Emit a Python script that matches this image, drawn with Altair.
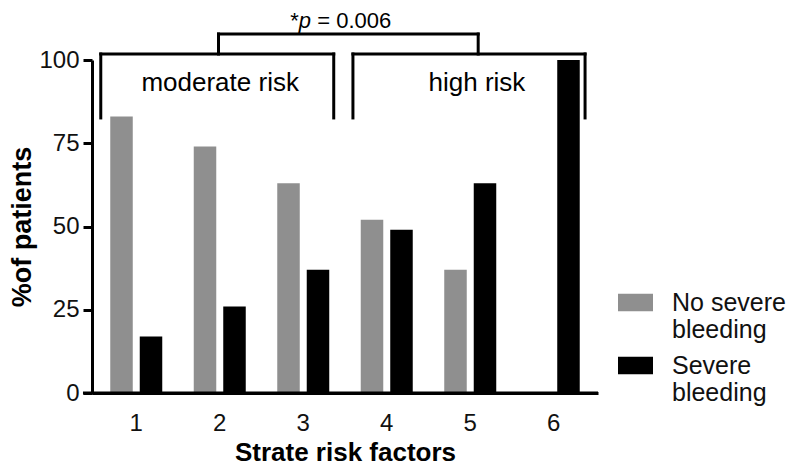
import altair as alt
import pandas as pd

FONT = "Liberation Sans"

# ---- data ----
factors = [1, 2, 3, 4, 5, 6]
no_severe = [83, 74, 63, 52, 37, 0]
severe = [17, 26, 37, 49, 63, 100]
series = ["No severe bleeding", "Severe bleeding"]
colors = ["#8f8f8f", "#000000"]
y_ticks = [0, 25, 50, 75, 100]

# annotation geometry, in (factor position, percent) units
bracket_labels = ["moderate risk", "high risk"]
bracket_left = [0.59, 3.61]
bracket_right = [3.38, 6.39]
bracket_level = 101.8
bracket_leg_bottom = 82.6
label_center = [2.02, 5.095]
label_y = 90.8
top_legs = [2.0, 5.11]
top_level = 107.8
p_x = 2.86
p_y = 109.6
x_pos_domain = [0.485, 6.545]

rows = []
for f, a, b in zip(factors, no_severe, severe):
    rows.append({"factor": f, "group": series[0], "pct": a})
    rows.append({"factor": f, "group": series[1], "pct": b})
bars_df = pd.DataFrame(rows)

segs = []
for l, r in zip(bracket_left, bracket_right):
    segs.append({"x": l, "x2": r, "y": bracket_level, "y2": bracket_level})
    segs.append({"x": l, "x2": l, "y": bracket_level, "y2": bracket_leg_bottom})
    segs.append({"x": r, "x2": r, "y": bracket_level, "y2": bracket_leg_bottom})
segs.append({"x": top_legs[0], "x2": top_legs[1], "y": top_level, "y2": top_level})
for t in top_legs:
    segs.append({"x": t, "x2": t, "y": bracket_level, "y2": top_level})
seg_df = pd.DataFrame(segs)

lab_df = pd.DataFrame({"x": label_center, "y": [label_y] * 2, "text": bracket_labels})
p_df = pd.DataFrame({"x": [p_x], "y": [p_y]})

yscale = alt.Scale(domain=[0, 100], nice=False, zero=True)
xq = alt.Scale(domain=x_pos_domain, nice=False, zero=False)
YT = "%of patients"

bars = alt.Chart(bars_df).mark_bar().encode(
    x=alt.X("factor:O", title="Strate risk factors",
            scale=alt.Scale(paddingInner=0, paddingOuter=0.03)),
    xOffset=alt.XOffset("group:N", sort=series,
                        scale=alt.Scale(paddingInner=0.237, paddingOuter=0.534)),
    y=alt.Y("pct:Q", title=YT, scale=yscale, axis=alt.Axis(values=y_ticks)),
    color=alt.Color("group:N", title=None,
                    scale=alt.Scale(domain=series, range=colors),
                    legend=alt.Legend(
                        labelExpr="datum.label == 'No severe bleeding' ? ['No severe', 'bleeding'] : ['Severe', 'bleeding']")),
)

axis_ext = alt.Chart(pd.DataFrame({"a": [0]})).mark_rule(
    color="black", strokeWidth=3).encode(
    x=alt.datum(0.377, scale=xq, axis=None),
    x2=alt.datum(x_pos_domain[1]),
    y=alt.datum(0, scale=yscale, title=YT),
)

rules = alt.Chart(seg_df).mark_rule(color="black", strokeWidth=3, strokeCap="square").encode(
    x=alt.X("x:Q", scale=xq, axis=None),
    x2="x2:Q",
    y=alt.Y("y:Q", scale=yscale, title=YT),
    y2="y2:Q",
)

labels = alt.Chart(lab_df).mark_text(
    font=FONT, fontSize=26, baseline="alphabetic", align="center", color="black").encode(
    x=alt.X("x:Q", scale=xq, axis=None),
    y=alt.Y("y:Q", scale=yscale, title=YT),
    text="text:N",
)

def ptext(txt, dx, italic=False):
    return alt.Chart(p_df).mark_text(
        font=FONT, fontSize=22, baseline="alphabetic", align="left", color="black",
        dx=dx, fontStyle="italic" if italic else "normal").encode(
        x=alt.X("x:Q", scale=xq, axis=None),
        y=alt.Y("y:Q", scale=yscale, title=YT),
        text=alt.value(txt),
    )

chart = alt.layer(
    bars, axis_ext, rules, labels,
    ptext("*", 0), ptext("p", 8.5, True), ptext("= 0.006", 27),
).resolve_scale(x="independent").properties(
    width=506, height=333,
    autosize=alt.AutoSizeParams(type="none"),
    padding={"left": 84, "top": 52, "right": 190, "bottom": 72},
).configure_view(stroke=None).configure_axis(
    grid=False, domainColor="black", domainWidth=3, tickColor="black", tickWidth=3,
    labelColor="#111111", labelFont=FONT, labelFontSize=24,
    titleFont=FONT, titleFontSize=27, titleFontWeight="bold", titleColor="black",
).configure_axisX(
    ticks=False, tickSize=0, labelPadding=18, titlePadding=4, labelAngle=0,
    titleFontSize=26,
).configure_axisY(
    tickSize=9, labelPadding=4, titlePadding=2,
).configure_legend(
    orient="none", legendX=526, legendY=225,
    labelFont=FONT, labelFontSize=25, labelColor="#111111", labelLimit=300,
    symbolType="M-1,-0.5H1V0.5H-1Z", symbolSize=1225, symbolStrokeWidth=0,
    labelOffset=19, rowPadding=5,
)

chart.save("out.html", embed_options={"renderer": "svg", "actions": False})
